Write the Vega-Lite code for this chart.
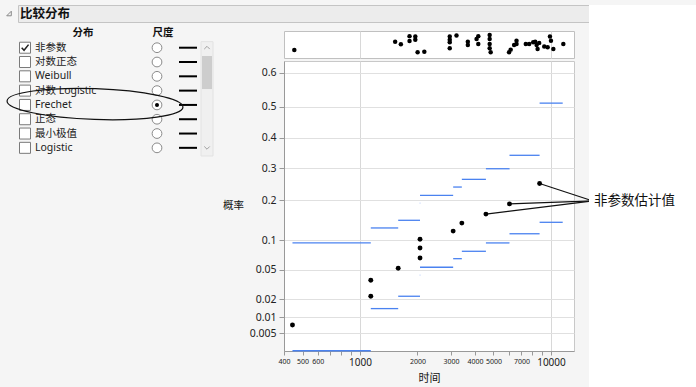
{
  "$schema": "https://vega.github.io/schema/vega-lite/v6.json",
  "background": "#f5f5f5",
  "padding": {"left": 4, "top": 4, "right": 0, "bottom": 0},
  "config": {
    "font": "Noto Sans, Noto Sans CJK SC, sans-serif",
    "view": {"stroke": null}
  },
  "datasets": {
    "dists": [
      {"name": "非参数", "i": 0, "checked": true, "selected": false},
      {"name": "对数正态", "i": 1, "checked": false, "selected": false},
      {"name": "Weibull", "i": 2, "checked": false, "selected": false},
      {"name": "对数 Logistic", "i": 3, "checked": false, "selected": false},
      {"name": "Frechet", "i": 4, "checked": false, "selected": true},
      {"name": "正态", "i": 5, "checked": false, "selected": false},
      {"name": "最小极值", "i": 6, "checked": false, "selected": false},
      {"name": "Logistic", "i": 7, "checked": false, "selected": false}
    ],
    "estimates": [
      {"time": 443, "p": 0.00724},
      {"time": 1139, "p": 0.0222},
      {"time": 1139, "p": 0.037},
      {"time": 1585, "p": 0.0518},
      {"time": 2062, "p": 0.0673},
      {"time": 2062, "p": 0.0848},
      {"time": 2062, "p": 0.102},
      {"time": 3075, "p": 0.12},
      {"time": 3414, "p": 0.139},
      {"time": 4564, "p": 0.162},
      {"time": 6064, "p": 0.19},
      {"time": 8718, "p": 0.251}
    ],
    "bands": [
      {"t0": 443, "t1": 1139, "lo": 0.002, "hi": 0.0946},
      {"t0": 1139, "t1": 1585, "lo": 0.0142, "hi": 0.1273},
      {"t0": 1585, "t1": 2062, "lo": 0.0222, "hi": 0.146},
      {"t0": 2062, "t1": 3075, "lo": 0.0532, "hi": 0.215},
      {"t0": 3075, "t1": 3414, "lo": 0.0661, "hi": 0.24},
      {"t0": 3414, "t1": 4564, "lo": 0.0787, "hi": 0.264},
      {"t0": 4564, "t1": 6064, "lo": 0.0946, "hi": 0.298},
      {"t0": 6064, "t1": 8718, "lo": 0.114, "hi": 0.342},
      {"t0": 8718, "t1": 11520, "lo": 0.141, "hi": 0.511},
      {"t0": 2058, "t1": 2066, "lo": 0.0428, "hi": 0.192}
    ],
    "strip": [
      {"time": 453, "j": 0.3}, {"time": 1528, "j": 0.6}, {"time": 1637, "j": 0.51},
      {"time": 1817, "j": 0.81}, {"time": 1817, "j": 0.63}, {"time": 1948, "j": 0.8},
      {"time": 1948, "j": 0.68}, {"time": 2003, "j": 0.21}, {"time": 2172, "j": 0.23},
      {"time": 2951, "j": 0.8}, {"time": 2951, "j": 0.68}, {"time": 2951, "j": 0.58},
      {"time": 2951, "j": 0.36}, {"time": 3201, "j": 0.83}, {"time": 3670, "j": 0.6},
      {"time": 3670, "j": 0.48}, {"time": 4078, "j": 0.7}, {"time": 4163, "j": 0.81},
      {"time": 4163, "j": 0.52}, {"time": 4775, "j": 0.85}, {"time": 4775, "j": 0.7},
      {"time": 4775, "j": 0.52}, {"time": 4775, "j": 0.36}, {"time": 4833, "j": 0.21},
      {"time": 6033, "j": 0.21}, {"time": 6152, "j": 0.31}, {"time": 6411, "j": 0.48},
      {"time": 6601, "j": 0.52}, {"time": 6601, "j": 0.64}, {"time": 7383, "j": 0.52},
      {"time": 7690, "j": 0.52}, {"time": 8070, "j": 0.58}, {"time": 8268, "j": 0.6},
      {"time": 8413, "j": 0.48}, {"time": 8511, "j": 0.33}, {"time": 8675, "j": 0.56},
      {"time": 9220, "j": 0.43}, {"time": 9607, "j": 0.4}, {"time": 9879, "j": 0.8},
      {"time": 10000, "j": 0.64}, {"time": 10290, "j": 0.33}, {"time": 11606, "j": 0.52}
    ]
  },
  "spacing": 571,
  "bounds": "flush",
  "hconcat": [
    {
      "spacing": 9,
      "bounds": "flush",
      "vconcat": [
        {
          "width": 571,
          "height": 17,
          "view": {"fill": "#ececec", "stroke": "#c4c4c4"},
          "data": {"values": [{"title": "比较分布"}]},
          "layer": [
            {
              "mark": {"type": "text", "align": "left", "baseline": "middle", "fontSize": 12.5, "fontWeight": "bold", "color": "#111"},
              "encoding": {
                "x": {"datum": 2, "type": "quantitative", "scale": {"domain": [0, 571], "zero": false, "nice": false}, "axis": null},
                "y": {"datum": 8.5, "type": "quantitative", "scale": {"domain": [0, 17], "reverse": true, "zero": false, "nice": false}, "axis": null},
                "text": {"field": "title"}
              }
            },
            {
              "mark": {"type": "point", "shape": "M 1 -1 L 1 1 L -1 1 Z", "size": 21, "filled": false, "stroke": "#888", "strokeWidth": 1, "opacity": 1},
              "encoding": {
                "x": {"datum": -9, "type": "quantitative", "scale": {"domain": [0, 571], "zero": false, "nice": false}, "axis": null},
                "y": {"datum": 8.5, "type": "quantitative", "scale": {"domain": [0, 17], "reverse": true, "zero": false, "nice": false}, "axis": null}
              }
            }
          ]
        },
        {
          "spacing": 66,
          "bounds": "flush",
          "hconcat": [
            {
              "width": 200,
              "height": 128,
              "data": {"name": "dists"},
              "layer": [
                {
                  "data": {"values": [{}]},
                  "mark": {"type": "rect", "fill": "#f0f0f0", "stroke": "#e2e2e2", "strokeWidth": 1},
                  "encoding": {
                    "x": {"datum": 183, "type": "quantitative", "scale": {"domain": [0, 200], "zero": false, "nice": false}, "axis": null},
                    "x2": {"datum": 195},
                    "y": {"datum": -0.42, "type": "quantitative", "scale": {"domain": [-1.168, 7.78], "reverse": true, "zero": false, "nice": false}, "axis": null},
                    "y2": {"datum": 7.57}
                  }
                },
                {
                  "data": {"values": [{}]},
                  "mark": {"type": "rect", "fill": "#cdcdcd"},
                  "encoding": {
                    "x": {"datum": 184, "type": "quantitative", "scale": {"domain": [0, 200], "zero": false, "nice": false}, "axis": null},
                    "x2": {"datum": 194},
                    "y": {"datum": 0.58, "type": "quantitative", "scale": {"domain": [-1.168, 7.78], "reverse": true, "zero": false, "nice": false}, "axis": null},
                    "y2": {"datum": 2.89}
                  }
                },
                {
                  "data": {"values": [{}]},
                  "mark": {"type": "point", "shape": "M -1 0.5 L 0 -0.5 L 1 0.5", "size": 30, "filled": false, "stroke": "#a0a0a0", "strokeWidth": 1, "opacity": 1},
                  "encoding": {
                    "x": {"datum": 189, "type": "quantitative", "scale": {"domain": [0, 200], "zero": false, "nice": false}, "axis": null},
                    "y": {"datum": 0, "type": "quantitative", "scale": {"domain": [-1.168, 7.78], "reverse": true, "zero": false, "nice": false}, "axis": null}
                  }
                },
                {
                  "data": {"values": [{}]},
                  "mark": {"type": "point", "shape": "M -1 -0.5 L 0 0.5 L 1 -0.5", "size": 30, "filled": false, "stroke": "#a0a0a0", "strokeWidth": 1, "opacity": 1},
                  "encoding": {
                    "x": {"datum": 189, "type": "quantitative", "scale": {"domain": [0, 200], "zero": false, "nice": false}, "axis": null},
                    "y": {"datum": 7, "type": "quantitative", "scale": {"domain": [-1.168, 7.78], "reverse": true, "zero": false, "nice": false}, "axis": null}
                  }
                },
                {
                  "data": {"values": [{"h": "分布"}]},
                  "mark": {"type": "text", "align": "center", "baseline": "middle", "fontSize": 10.5, "fontWeight": "bold", "color": "#111"},
                  "encoding": {
                    "x": {"datum": 65, "type": "quantitative", "scale": {"domain": [0, 200], "zero": false, "nice": false}, "axis": null},
                    "y": {"datum": -1, "type": "quantitative", "scale": {"domain": [-1.168, 7.78], "reverse": true, "zero": false, "nice": false}, "axis": null},
                    "text": {"field": "h"}
                  }
                },
                {
                  "data": {"values": [{"h": "尺度"}]},
                  "mark": {"type": "text", "align": "center", "baseline": "middle", "fontSize": 10.5, "fontWeight": "bold", "color": "#111"},
                  "encoding": {
                    "x": {"datum": 145, "type": "quantitative", "scale": {"domain": [0, 200], "zero": false, "nice": false}, "axis": null},
                    "y": {"datum": -1, "type": "quantitative", "scale": {"domain": [-1.168, 7.78], "reverse": true, "zero": false, "nice": false}, "axis": null},
                    "text": {"field": "h"}
                  }
                },
                {
                  "mark": {"type": "point", "shape": "square", "size": 121, "filled": true, "fill": "white", "stroke": "#7a7a7a", "strokeWidth": 1, "opacity": 1},
                  "encoding": {
                    "x": {"datum": 7, "type": "quantitative", "scale": {"domain": [0, 200], "zero": false, "nice": false}, "axis": null},
                    "y": {"field": "i", "type": "quantitative", "scale": {"domain": [-1.168, 7.78], "reverse": true, "zero": false, "nice": false}, "axis": null}
                  }
                },
                {
                  "transform": [{"filter": "datum.checked"}],
                  "mark": {"type": "point", "shape": "M -0.7 0 L -0.2 0.55 L 0.75 -0.65", "size": 90, "filled": false, "stroke": "#222", "strokeWidth": 1.5, "opacity": 1},
                  "encoding": {
                    "x": {"datum": 7, "type": "quantitative", "scale": {"domain": [0, 200], "zero": false, "nice": false}, "axis": null},
                    "y": {"field": "i", "type": "quantitative", "scale": {"domain": [-1.168, 7.78], "reverse": true, "zero": false, "nice": false}, "axis": null}
                  }
                },
                {
                  "mark": {"type": "text", "align": "left", "baseline": "middle", "fontSize": 10.5, "color": "#222"},
                  "encoding": {
                    "x": {"datum": 17, "type": "quantitative", "scale": {"domain": [0, 200], "zero": false, "nice": false}, "axis": null},
                    "y": {"field": "i", "type": "quantitative", "scale": {"domain": [-1.168, 7.78], "reverse": true, "zero": false, "nice": false}, "axis": null},
                    "text": {"field": "name"}
                  }
                },
                {
                  "mark": {"type": "point", "shape": "circle", "size": 95, "filled": true, "fill": "white", "stroke": "#8a8a8a", "strokeWidth": 1, "opacity": 1},
                  "encoding": {
                    "x": {"datum": 139, "type": "quantitative", "scale": {"domain": [0, 200], "zero": false, "nice": false}, "axis": null},
                    "y": {"field": "i", "type": "quantitative", "scale": {"domain": [-1.168, 7.78], "reverse": true, "zero": false, "nice": false}, "axis": null}
                  }
                },
                {
                  "transform": [{"filter": "datum.selected"}],
                  "mark": {"type": "point", "shape": "circle", "size": 16, "filled": true, "fill": "black", "strokeWidth": 0, "opacity": 1},
                  "encoding": {
                    "x": {"datum": 139, "type": "quantitative", "scale": {"domain": [0, 200], "zero": false, "nice": false}, "axis": null},
                    "y": {"field": "i", "type": "quantitative", "scale": {"domain": [-1.168, 7.78], "reverse": true, "zero": false, "nice": false}, "axis": null}
                  }
                },
                {
                  "mark": {"type": "rule", "color": "black", "strokeWidth": 2},
                  "encoding": {
                    "x": {"datum": 161, "type": "quantitative", "scale": {"domain": [0, 200], "zero": false, "nice": false}, "axis": null},
                    "x2": {"datum": 179},
                    "y": {"field": "i", "type": "quantitative", "scale": {"domain": [-1.168, 7.78], "reverse": true, "zero": false, "nice": false}, "axis": null}
                  }
                },
                {
                  "transform": [{"filter": "datum.selected"}],
                  "mark": {"type": "point", "shape": "M -1 0 C -1 -0.0967 -0.5523 -0.175 0 -0.175 C 0.5523 -0.175 1 -0.0967 1 0 C 1 0.0967 0.5523 0.175 0 0.175 C -0.5523 0.175 -1 0.0967 -1 0 Z", "size": 30976, "angle": 2, "filled": false, "stroke": "#111", "strokeWidth": 1.2, "opacity": 1},
                  "encoding": {
                    "x": {"datum": 77, "type": "quantitative", "scale": {"domain": [0, 200], "zero": false, "nice": false}, "axis": null},
                    "y": {"datum": 3.94, "type": "quantitative", "scale": {"domain": [-1.168, 7.78], "reverse": true, "zero": false, "nice": false}, "axis": null}
                  }
                }
              ]
            },
            {
              "spacing": 3,
              "bounds": "flush",
              "vconcat": [
                {
                  "width": 290,
                  "height": 27,
                  "view": {"fill": "white", "stroke": "#c0c0c0"},
                  "data": {"name": "strip"},
                  "mark": {"type": "circle", "size": 20, "color": "black", "opacity": 1},
                  "encoding": {
                    "x": {"field": "time", "type": "quantitative", "scale": {"type": "log", "domain": [400, 13200], "nice": false},
                      "axis": {"values": [1000, 10000], "tickCount": 30, "grid": true, "gridColor": "#d8d8d8", "labels": false, "ticks": false, "domain": false, "title": null}},
                    "y": {"field": "j", "type": "quantitative", "scale": {"domain": [0, 1], "zero": false, "nice": false}, "axis": null}
                  }
                },
                {
                  "width": 290,
                  "height": 290,
                  "view": {"fill": "white", "stroke": "#c8c8c8"},
                  "layer": [
                    {
                      "data": {"name": "bands"},
                      "transform": [{"calculate": "-log(-log(datum.lo))", "as": "tlo"}],
                      "mark": {"type": "rule", "color": "#4a82f0", "strokeWidth": 1.3},
                      "encoding": {
                        "x": {"field": "t0", "type": "quantitative", "scale": {"type": "log", "domain": [400, 13200], "nice": false},
                          "axis": {
                            "values": [400, 500, 600, 700, 800, 900, 1000, 2000, 3000, 4000, 5000, 6000, 7000, 8000, 9000, 10000],
                            "tickCount": 30,
                            "labelExpr": "indexof([400,500,600,1000,2000,3000,4000,5000,7000,10000], datum.value) >= 0 ? '' + datum.value : ''",
                            "labelFontSize": {"condition": {"test": "datum.value == 1000 || datum.value == 10000", "value": 10}, "value": 7},
                            "gridOpacity": {"condition": {"test": "datum.value == 1000 || datum.value == 10000", "value": 1}, "value": 0},
                            "grid": true, "gridColor": "#d8d8d8",
                            "tickSize": 4, "tickColor": "#999", "domainColor": "#999",
                            "labelColor": "#222", "labelPadding": 2,
                            "labelFlush": false, "labelOverlap": false, "labelBound": false,
                            "title": "时间", "titleFontSize": 11, "titleFontWeight": "normal", "titleColor": "#111",
                            "titleY": 27, "titleBaseline": "middle"
                          }},
                        "x2": {"field": "t1"},
                        "y": {"field": "tlo", "type": "quantitative", "scale": {"domain": [-1.829, 0.777], "zero": false, "nice": false},
                          "axis": {
                            "values": [0.67173, 0.36651, 0.08742, -0.18563, -0.47588, -0.83403, -1.09719, -1.36405, -1.52718, -1.6674],
                            "tickCount": 30,
                            "labelExpr": "format(exp(-exp(-datum.value)), '.3~g')",
                            "labelOverlap": false, "labelFlush": false, "labelBound": false,
                            "grid": true, "gridColor": "#e0e0e0",
                            "tickSize": 5, "tickColor": "#999", "domainColor": "#999",
                            "labelFontSize": 10.5, "labelColor": "#222", "labelPadding": 3,
                            "title": "概率", "titleAngle": 0, "titleX": -51, "titleY": 144,
                            "titleAlign": "center", "titleBaseline": "middle",
                            "titleFontWeight": "normal", "titleFontSize": 10.5, "titleColor": "#111"
                          }}
                      }
                    },
                    {
                      "data": {"name": "bands"},
                      "transform": [{"calculate": "-log(-log(datum.hi))", "as": "thi"}],
                      "mark": {"type": "rule", "color": "#4a82f0", "strokeWidth": 1.3},
                      "encoding": {
                        "x": {"field": "t0", "type": "quantitative"},
                        "x2": {"field": "t1"},
                        "y": {"field": "thi", "type": "quantitative"}
                      }
                    },
                    {
                      "data": {"name": "estimates"},
                      "transform": [{"filter": "datum.time >= 4500"}, {"calculate": "-log(-log(datum.p))", "as": "t"}],
                      "mark": {"type": "rule", "color": "#111", "strokeWidth": 1.2},
                      "encoding": {
                        "x": {"field": "time", "type": "quantitative"},
                        "y": {"field": "t", "type": "quantitative"},
                        "x2": {"datum": 16580},
                        "y2": {"datum": -0.4807}
                      }
                    },
                    {
                      "data": {"name": "estimates"},
                      "transform": [{"calculate": "-log(-log(datum.p))", "as": "t"}],
                      "mark": {"type": "circle", "size": 24, "color": "black", "opacity": 1},
                      "encoding": {
                        "x": {"field": "time", "type": "quantitative"},
                        "y": {"field": "t", "type": "quantitative"}
                      }
                    }
                  ]
                }
              ]
            }
          ]
        }
      ]
    },
    {
      "width": 108,
      "height": 383,
      "view": {"fill": "white", "stroke": null},
      "data": {"values": [{"label": "非参数估计值"}]},
      "mark": {"type": "text", "align": "left", "baseline": "middle", "fontSize": 13.5, "color": "#111"},
      "encoding": {
        "x": {"datum": 5, "type": "quantitative", "scale": {"domain": [0, 108], "zero": false, "nice": false}, "axis": null},
        "y": {"datum": 196, "type": "quantitative", "scale": {"domain": [0, 383], "reverse": true, "zero": false, "nice": false}, "axis": null},
        "text": {"field": "label"}
      }
    }
  ]
}
